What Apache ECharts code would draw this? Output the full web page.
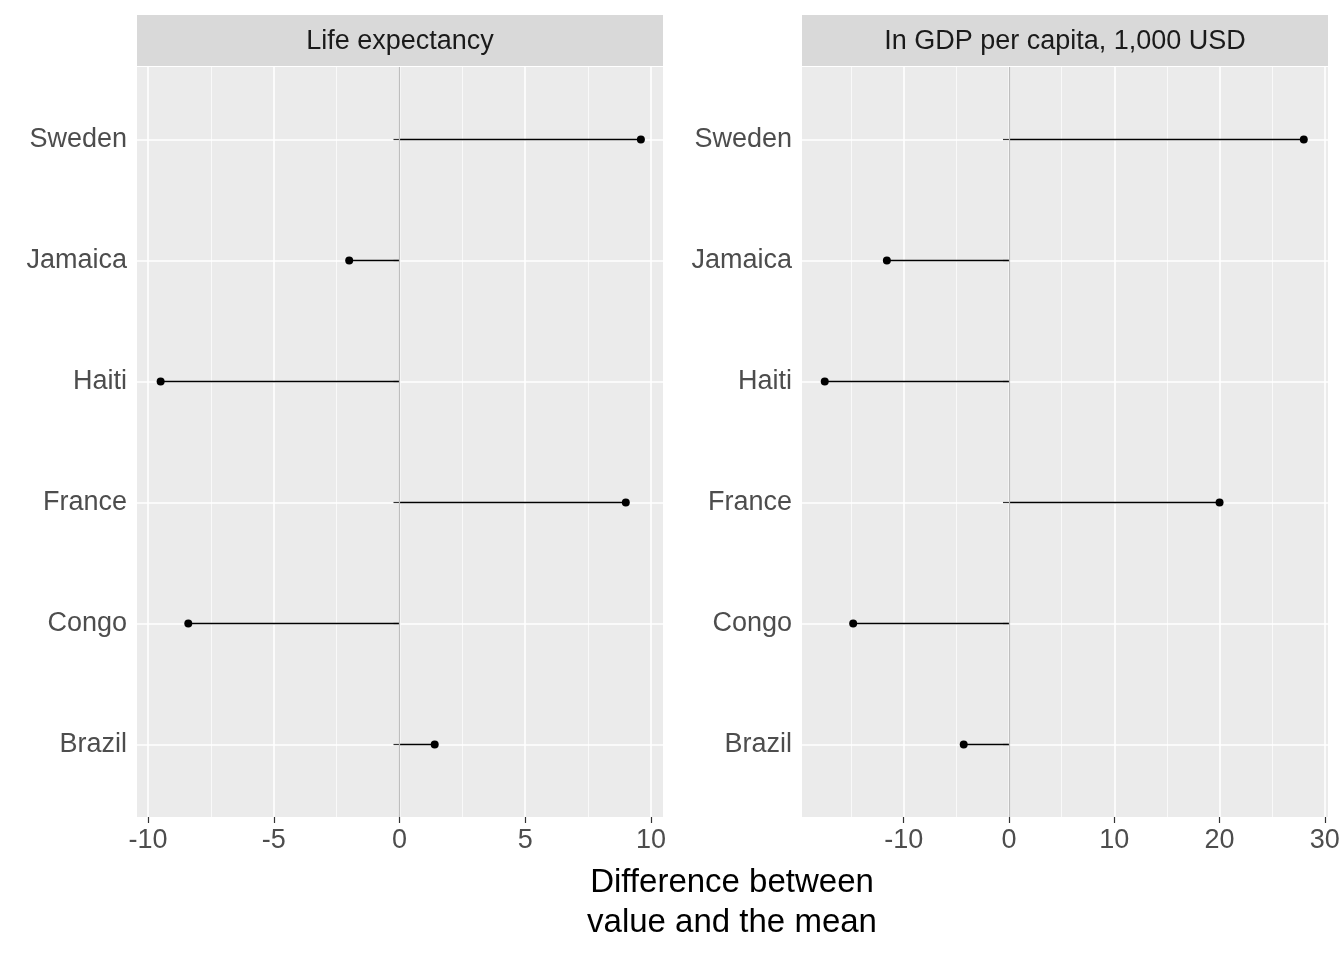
<!DOCTYPE html>
<html><head><meta charset="utf-8">
<script src="https://cdn.jsdelivr.net/npm/echarts@6/dist/echarts.min.js"></script>
<style>body{margin:0}#c{width:1344px;height:960px}</style></head>
<body><div id="c"></div>
<script>
const countries = ["Brazil","Congo","France","Haiti","Jamaica","Sweden"];
const lifeExp = [1.4,-8.4,9.0,-9.5,-2.0,9.6];
const gdp = [-4.3,-14.8,20.0,-17.5,-11.6,28.0];
const panelTitles = ["Life expectancy","In GDP per capita, 1,000 USD"];
const leftTicks = [-10,-5,0,5,10], leftMinor = [-7.5,-2.5,2.5,7.5];
const rightTicks = [-10,0,10,20,30], rightMinor = [-15,-5,5,15,25];
const yPos = [1,2,3,4,5,6];

const chart = echarts.init(document.getElementById('c'));
const font = 'Arial, Liberation Sans, sans-serif';
const grids = [{left:137,top:67,width:526,height:750},{left:802,top:67,width:526,height:750}];
const ranges = [[-10.44,10.48],[-19.66,30.3]];
const ticks = [leftTicks,rightTicks], minors = [leftMinor,rightMinor];
const vals = [lifeExp,gdp];
const xAxis=[], yAxis=[], series=[];
const hiddenLine = {show:true,lineStyle:{color:'rgba(0,0,0,0)'}};
for (let i=0;i<2;i++){
  xAxis.push({type:'value',gridIndex:i,min:ranges[i][0],max:ranges[i][1],
    axisLine:hiddenLine,
    axisTick:{show:true,length:6,customValues:ticks[i],lineStyle:{color:'#333',width:1.2}},
    axisLabel:{customValues:ticks[i],fontSize:27,color:'#4d4d4d',fontFamily:font,margin:10},
    splitLine:{show:true,lineStyle:{color:'#fff',width:1.6}}});
  xAxis.push({type:'value',gridIndex:i,min:ranges[i][0],max:ranges[i][1],
    axisLine:{show:false},axisTick:{show:false,customValues:minors[i]},
    axisLabel:{show:false,customValues:minors[i]},
    splitLine:{show:true,lineStyle:{color:'#fff',width:0.7}}});
  yAxis.push({type:'value',gridIndex:i,min:0.4,max:6.6,
    axisLine:hiddenLine,
    axisTick:{show:true,length:6,customValues:yPos,lineStyle:{color:'#333',width:1.2}},
    axisLabel:{customValues:yPos,fontSize:27,color:'#4d4d4d',fontFamily:font,margin:10,
      formatter:v=>countries[Math.round(v)-1]},
    splitLine:{show:true,lineStyle:{color:'#fff',width:1.6}}});
  const data = vals[i].map((v,k)=>[v,yPos[k]]);
  series.push({type:'custom',xAxisIndex:i*2,yAxisIndex:i,data:data,silent:true,z:3,
    renderItem:(p,api)=>{const a=api.coord([0,api.value(1)]),b=api.coord([api.value(0),api.value(1)]);
      return {type:'line',shape:{x1:a[0],y1:a[1],x2:b[0],y2:b[1]},style:{stroke:'#000',lineWidth:1.5,lineCap:'butt'}};},
    markLine:{silent:true,symbol:'none',label:{show:false},lineStyle:{color:'#bebebe',width:1.2,type:'solid'},data:[{xAxis:0}]}});
  series.push({type:'scatter',xAxisIndex:i*2,yAxisIndex:i,data:data,symbolSize:8,itemStyle:{color:'#000',opacity:1},z:4,silent:true});
}
const graphic=[];
for (let i=0;i<2;i++){
  graphic.push({type:'rect',shape:{x:grids[i].left,y:15,width:526,height:51},style:{fill:'#d9d9d9'}});
  graphic.push({type:'text',x:grids[i].left+263,y:42,style:{text:panelTitles[i],font:'27px '+font,fill:'#1a1a1a',align:'center',verticalAlign:'middle'}});
}
graphic.push({type:'text',x:732,y:903,style:{text:'Difference between\nvalue and the mean',font:'33px '+font,fill:'#000',align:'center',verticalAlign:'middle',lineHeight:40}});
chart.setOption({animation:false,backgroundColor:'#fff',
  grid:grids.map(g=>Object.assign({backgroundColor:'#ebebeb',show:true,borderWidth:0},g)),
  xAxis,yAxis,series,graphic});
</script></body></html>
